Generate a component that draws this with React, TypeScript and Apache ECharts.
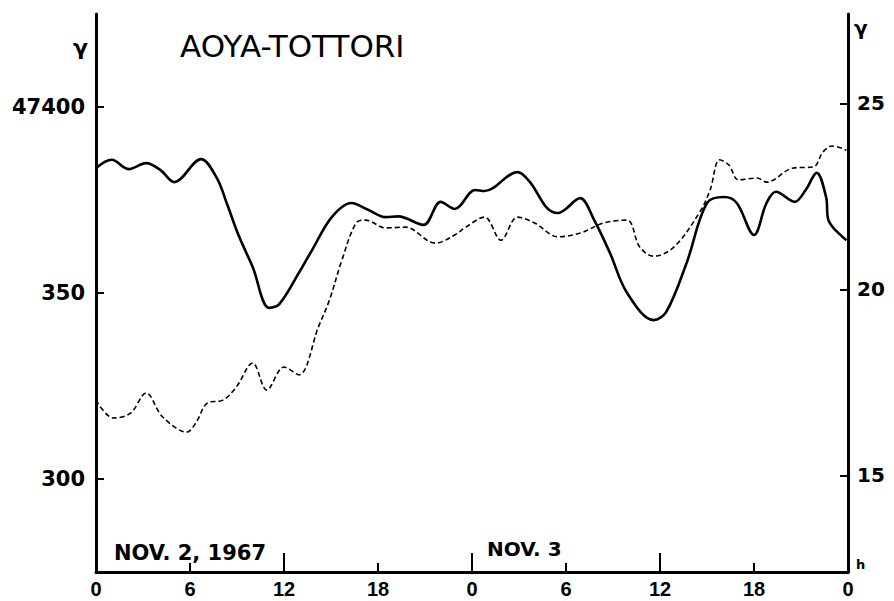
import React, { useEffect, useRef } from "react";
import * as echarts from "echarts";

// Horizontal intensity (left axis, 47xxx γ) — solid curve
const solidHours = [0, 1.0, 2.1, 3.2, 4.1, 5.0, 6.7, 7.7, 8.4, 9.1, 10.0, 11.05, 11.7, 12.95, 13.8, 15.05, 16.3, 17.4, 18.5, 19.3, 20.9, 22.0, 22.9, 24.2, 24.8, 26.9, 27.7, 28.8, 29.5, 29.9, 30.9, 31.8, 32.8, 33.9, 35.6, 36.4, 37.7, 39.0, 40.1, 40.9, 42.0, 42.8, 43.4, 44.6, 45.3, 46.0, 46.6, 46.75, 47.9];
const solidValues = [47383.6, 47385.8, 47383.3, 47384.9, 47383.1, 47379.8, 47386.0, 47381.0, 47373.5, 47365.5, 47357.0, 47346.0, 47347.0, 47355.4, 47361.6, 47370.4, 47374.2, 47372.3, 47370.4, 47370.6, 47368.3, 47374.5, 47372.6, 47377.7, 47377.4, 47382.5, 47379.8, 47372.8, 47371.5, 47372.3, 47375.5, 47369.6, 47360.8, 47350.0, 47342.7, 47344.9, 47358.1, 47374.2, 47375.8, 47374.2, 47365.6, 47374.2, 47377.2, 47374.5, 47377.7, 47382.3, 47375.8, 47369.6, 47364.2];

// Second component (right axis, γ) — dashed curve
const dashedHours = [0, 1.1, 2.2, 3.2, 4.25, 5.8, 6.4, 7.1, 8.1, 8.95, 10.0, 10.9, 12.0, 12.95, 14.2, 14.9, 15.7, 16.6, 17.2, 18.5, 19.75, 21.65, 22.9, 23.6, 24.8, 25.85, 26.9, 28.0, 29.5, 30.9, 32.4, 33.9, 34.7, 35.6, 36.9, 38.5, 39.2, 39.8, 40.4, 41.0, 42.2, 42.8, 44.5, 45.8, 46.4, 47.0, 47.9];
const dashedValues = [17.02, 16.54, 16.67, 17.21, 16.57, 16.16, 16.43, 16.94, 17.02, 17.37, 18.02, 17.29, 17.91, 17.7, 18.99, 19.71, 20.79, 21.78, 21.86, 21.65, 21.67, 21.24, 21.46, 21.67, 21.94, 21.32, 21.94, 21.78, 21.41, 21.51, 21.78, 21.86, 21.14, 20.89, 21.14, 22.05, 22.67, 23.48, 23.34, 22.94, 22.99, 22.88, 23.26, 23.29, 23.69, 23.85, 23.74];

const leftTicks = [47300, 47350, 47400];
const rightTicks = [15, 20, 25];
const title = "AOYA-TOTTORI";
const day1Label = "NOV. 2, 1967";
const day2Label = "NOV. 3";

export default function App() {
  const ref = useRef<HTMLDivElement>(null);
  useEffect(() => {
    document.body.style.margin = "0";
    const chart = echarts.init(ref.current!, null, { renderer: "svg" });
    const solid = solidHours.map((h, i) => [h, solidValues[i]]);
    const dashed = dashedHours.map((h, i) => [h, dashedValues[i]]);
    const labelFont = "DejaVu Sans";
    chart.setOption({
      animation: false,
      backgroundColor: "#ffffff",
      grid: { left: 96, right: 46, top: 14, bottom: 29, containLabel: false },
      xAxis: [
        {
          type: "value",
          min: 0,
          max: 48,
          interval: 6,
          position: "bottom",
          axisLine: { show: true, onZero: false, lineStyle: { color: "#000", width: 3 } },
          axisTick: { show: true, inside: true, length: 9, lineStyle: { color: "#000", width: 2 } },
          axisLabel: {
            margin: 7,
            color: "#000",
            fontFamily: "Liberation Sans",
            fontWeight: "bold",
            fontSize: 20,
            formatter: (v: number) => String(v % 24),
          },
          splitLine: { show: false },
        },
        {
          type: "value",
          min: 0,
          max: 48,
          interval: 12,
          position: "bottom",
          axisLine: { show: false, onZero: false },
          axisTick: { show: true, inside: true, length: 19, lineStyle: { color: "#000", width: 2 } },
          axisLabel: { show: false },
          splitLine: { show: false },
        },
      ],
      yAxis: [
        {
          type: "value",
          min: 47275,
          max: 47425,
          position: "left",
          axisLine: { show: true, onZero: false, lineStyle: { color: "#000", width: 3 } },
          axisTick: { show: true, inside: true, length: 8, customValues: leftTicks, lineStyle: { color: "#000", width: 2 } },
          axisLabel: {
            customValues: leftTicks,
            margin: 11,
            color: "#000",
            fontFamily: labelFont,
            fontWeight: "bold",
            fontSize: 21,
            formatter: (v: number) => (v === 47400 ? "47400" : String(v - 47000)),
          },
          splitLine: { show: false },
        },
        {
          type: "value",
          min: 12.4,
          max: 27.4,
          position: "right",
          axisLine: { show: true, onZero: false, lineStyle: { color: "#000", width: 3 } },
          axisTick: { show: true, inside: true, length: 8, customValues: rightTicks, lineStyle: { color: "#000", width: 2 } },
          axisLabel: {
            customValues: rightTicks,
            margin: 9,
            color: "#000",
            fontFamily: labelFont,
            fontWeight: "bold",
            fontSize: 20,
          },
          splitLine: { show: false },
        },
      ],
      series: [
        {
          type: "line",
          name: "H",
          xAxisIndex: 0,
          yAxisIndex: 0,
          data: solid,
          smooth: 0.35,
          showSymbol: false,
          symbol: "none",
          lineStyle: { color: "#000", width: 2.6 },
        },
        {
          type: "line",
          name: "D",
          xAxisIndex: 0,
          yAxisIndex: 1,
          data: dashed,
          smooth: 0.35,
          showSymbol: false,
          symbol: "none",
          lineStyle: { color: "#000", width: 1.6, type: [5, 3] },
        },
      ],
      graphic: [
        {
          type: "text",
          left: 180,
          top: 30,
          style: { text: title, fontFamily: labelFont, fontSize: 31, fill: "#000" },
        },
        {
          type: "text",
          left: 73,
          top: 36,
          style: { text: "γ", fontFamily: labelFont, fontWeight: "bold", fontSize: 22, fill: "#000" },
        },
        {
          type: "text",
          left: 854,
          top: 18,
          style: { text: "γ", fontFamily: labelFont, fontWeight: "bold", fontSize: 20, fill: "#000" },
        },
        {
          type: "text",
          left: 856,
          top: 558,
          style: { text: "h", fontFamily: labelFont, fontWeight: "bold", fontSize: 13, fill: "#000" },
        },
        {
          type: "text",
          left: 114,
          top: 542,
          style: { text: day1Label, fontFamily: labelFont, fontWeight: "bold", fontSize: 21, fill: "#000" },
        },
        {
          type: "text",
          left: 487,
          top: 539,
          style: { text: day2Label, fontFamily: labelFont, fontWeight: "bold", fontSize: 20, fill: "#000" },
        },
      ],
    });
    return () => chart.dispose();
  }, []);
  return <div ref={ref} style={{ width: 894, height: 601 }} />;
}
